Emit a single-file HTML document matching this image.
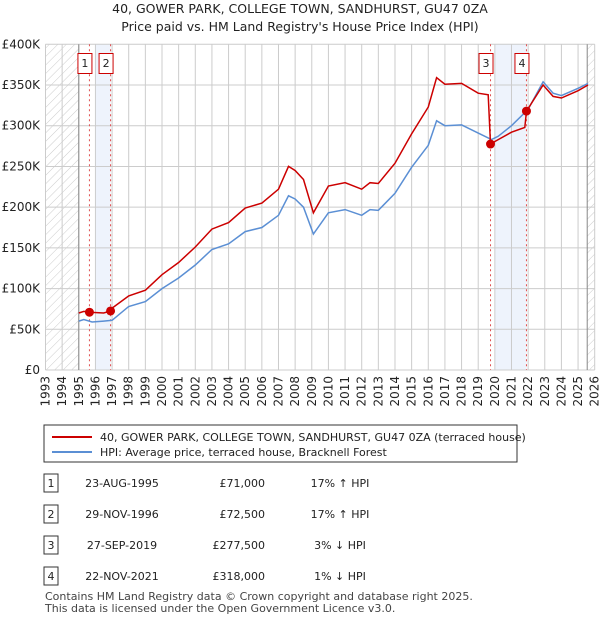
<!DOCTYPE html>
<html><head><meta charset="utf-8"><style>
body{margin:0;background:#fff;font-family:"Liberation Sans","DejaVu Sans",sans-serif;}
svg text{font-family:"DejaVu Sans","Liberation Sans",sans-serif;}
</style></head><body>
<svg id="c" width="600" height="620" xmlns="http://www.w3.org/2000/svg">
<defs><pattern id="hatch" width="6" height="6" patternUnits="userSpaceOnUse" patternTransform="rotate(45)"><line x1="0" y1="0" x2="0" y2="6" stroke="#ccc" stroke-width="1"/></pattern></defs>
<text x="300" y="13" text-anchor="middle" font-size="12.5" fill="#222">40, GOWER PARK, COLLEGE TOWN, SANDHURST, GU47 0ZA</text>
<text x="300" y="31" text-anchor="middle" font-size="12.5" fill="#222">Price paid vs. HM Land Registry's House Price Index (HPI)</text>
<g id="plot"></g>
<rect x="44" y="425" width="473" height="37" fill="#fff" stroke="#333"/>
<line x1="52" y1="437" x2="92" y2="437" stroke="#cc0000" stroke-width="2"/>
<text x="100" y="441" font-size="11" fill="#222">40, GOWER PARK, COLLEGE TOWN, SANDHURST, GU47 0ZA (terraced house)</text>
<line x1="52" y1="452" x2="92" y2="452" stroke="#5b8fd4" stroke-width="2"/>
<text x="100" y="456" font-size="11" fill="#222">HPI: Average price, terraced house, Bracknell Forest</text>
<g id="table" font-size="11" fill="#222"></g>
<text x="45" y="600" font-size="11" fill="#444">Contains HM Land Registry data © Crown copyright and database right 2025.</text>
<text x="45" y="612" font-size="11" fill="#444">This data is licensed under the Open Government Licence v3.0.</text>
</svg>
<script>
const yTicks=[0,50,100,150,200,250,300,350,400];
const yTickLabels=["£0","£50K","£100K","£150K","£200K","£250K","£300K","£350K","£400K"];
const xYears=[1993,1994,1995,1996,1997,1998,1999,2000,2001,2002,2003,2004,2005,2006,2007,2008,2009,2010,2011,2012,2013,2014,2015,2016,2017,2018,2019,2020,2021,2022,2023,2024,2025,2026];
const hpiYears=[1995.0,1995.3,1995.8,1996.5,1997.0,1998.0,1999.0,2000.0,2001.0,2002.0,2003.0,2004.0,2005.0,2006.0,2007.0,2007.6,2008.0,2008.5,2009.1,2010.0,2011.0,2012.0,2012.5,2013.0,2014.0,2015.0,2016.0,2016.5,2017.0,2018.0,2019.0,2019.8,2020.2,2021.0,2022.0,2022.9,2023.5,2024.0,2025.0,2025.6];
const hpiValues=[60,62,59,60,61,78,84,100,113,129,148,155,170,175,190,214,210,200,167,193,197,190,197,196,217,249,276,306,300,301,291,283,287,300,320,354,340,337,346,352];
const priceYears=[1995.0,1995.3,1995.64,1996.5,1996.91,1997.0,1998.0,1999.0,2000.0,2001.0,2002.0,2003.0,2004.0,2005.0,2006.0,2007.0,2007.6,2008.0,2008.5,2009.1,2010.0,2011.0,2012.0,2012.5,2013.0,2014.0,2015.0,2016.0,2016.5,2017.0,2018.0,2019.0,2019.6,2019.74,2020.2,2021.0,2021.8,2021.9,2022.9,2023.5,2024.0,2025.0,2025.6];
const priceValues=[70,72,71,70,72.5,76,91,98,117,132,151,173,181,199,205,222,250,245,234,193,226,230,222,230,229,254,290,323,359,351,352,340,338,277.5,283,292,298,318,350,336,334,343,350];
const saleLabels=["1","2","3","4"];
const saleYears=[1995.64,1996.91,2019.74,2021.9];
const saleValues=[71,72.5,277.5,318];
const saleDates=["23-AUG-1995","29-NOV-1996","27-SEP-2019","22-NOV-2021"];
const salePrices=["£71,000","£72,500","£277,500","£318,000"];
const saleHpi=["17% ↑ HPI","17% ↑ HPI","3% ↓ HPI","1% ↓ HPI"];

const L=45.5,R=594.7,T=44.3,B=370;
const X=y=>L+(y-1993)*(R-L)/33;
const Y=v=>B-v*(B-T)/400;
const NS="http://www.w3.org/2000/svg";
const g=document.getElementById('plot');
function mk(tag,attrs,parent){const e=document.createElementNS(NS,tag);for(const k in attrs)e.setAttribute(k,attrs[k]);(parent||g).appendChild(e);return e;}
let r=mk('rect',{x:L,y:T,width:X(1995)-L,height:B-T,fill:'url(#hatch)'});


r=mk('rect',{x:X(2025.55),y:T,width:R-X(2025.55),height:B-T,fill:'url(#hatch)'});


r=mk('rect',{x:X(1996),y:T,width:X(saleYears[1])-X(1996),height:B-T,fill:'#eef3fc'});


r=mk('rect',{x:X(2020),y:T,width:X(saleYears[3])-X(2020),height:B-T,fill:'#eef3fc'});


yTicks.forEach((v,i)=>{
 const l=mk('line',{x1:L,x2:R,y1:Y(v),y2:Y(v),stroke:'#ccc'});
 
 
 const t=mk('text',{x:40,y:Y(v)+4,'text-anchor':'end','font-size':'12',fill:'#222'});
 t.textContent=yTickLabels[i];
 
 
});
xYears.forEach(yr=>{
 const l=mk('line',{x1:X(yr),x2:X(yr),y1:T,y2:B,stroke:'#ccc'});
 
 
 const t=mk('text',{x:0,y:0,'font-size':'12',fill:'#222','text-anchor':'end',transform:`translate(${X(yr)+4},${B+6}) rotate(-90)`});
 t.textContent=yr;
 
 
});
let l=mk('line',{x1:X(1995),x2:X(1995),y1:T,y2:B,stroke:'#888'});


l=mk('line',{x1:X(2025.55),x2:X(2025.55),y1:T,y2:B,stroke:'#888'});


saleYears.forEach((yr,i)=>{
 const d=mk('line',{x1:X(yr),x2:X(yr),y1:T,y2:B,stroke:'#e05050','stroke-dasharray':'2,3'});
 
 
 const bx0=X(yr)-11.5;
 const bx=mk('rect',{x:bx0,y:53.5,width:14,height:20,fill:'#fff',stroke:'#cc0000'});
 
 
 const t=mk('text',{x:bx0+7,y:67,'text-anchor':'middle','font-size':'11',fill:'#222'});
 t.textContent=saleLabels[i];
 
 
});
function path(ys,vs){return ys.map((y,i)=>(i?'L':'M')+X(y).toFixed(1)+','+Y(vs[i]).toFixed(1)).join('');}
let p=mk('path',{d:path(hpiYears,hpiValues),fill:'none',stroke:'#5b8fd4','stroke-width':1.5});


p=mk('path',{d:path(priceYears,priceValues),fill:'none',stroke:'#cc0000','stroke-width':1.5});


saleYears.forEach((yr,i)=>{
 const c=mk('circle',{cx:X(yr),cy:Y(saleValues[i]),r:4.5,fill:'#cc0000'});
 
 
});
const tb=document.getElementById('table');
saleLabels.forEach((s,i)=>{
 const y=483+i*31;
 const b=mk('rect',{x:44,y:y-9,width:14,height:18,fill:'#fff',stroke:'#333'},tb);
 
 
 const cells=[[51,s,'middle'],[122,saleDates[i],'middle'],[265,salePrices[i],'end'],[340,saleHpi[i],'middle']];
 cells.forEach(([x,txt,a])=>{
  const t=mk('text',{x:x,y:y+4,'text-anchor':a},tb);
  t.textContent=txt;
  
  
 });
});
</script>
</body></html>
